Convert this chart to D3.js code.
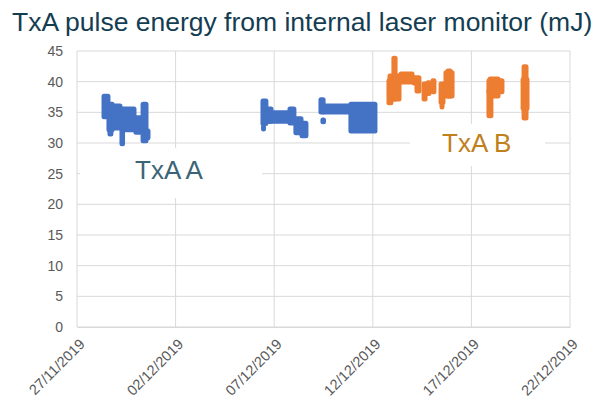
<!DOCTYPE html>
<html><head><meta charset="utf-8">
<script src="https://cdn.jsdelivr.net/npm/d3@7"></script>
<style>body{margin:0;background:#fff}svg{display:block}</style>
</head><body>
<svg id="c" width="604" height="411"></svg>
<script>
// ---- data ----
const title = "TxA pulse energy from internal laser monitor (mJ)";
const startDate = "2019-11-27";
const endDate = "2019-12-22";
const yTicks = [0, 5, 10, 15, 20, 25, 30, 35, 40, 45];
const xTickDates = ["2019-11-27", "2019-12-02", "2019-12-07", "2019-12-12", "2019-12-17", "2019-12-22"];
const seriesNames = ["TxA A", "TxA B"];
// clusters of readings: [start day offset, end day offset, min mJ, max mJ]
const txaA = [
  [1.32, 1.62, 34.1, 37.8], [1.57, 1.83, 32.0, 36.5], [1.62, 1.77, 31.3, 33.0],
  [1.83, 2.23, 32.3, 36.2], [2.23, 2.36, 29.7, 35.7], [2.33, 2.94, 32.0, 35.7],
  [2.94, 3.30, 31.6, 34.3], [3.30, 3.55, 30.2, 36.5], [3.50, 3.65, 30.7, 32.1],
  [9.38, 9.63, 33.0, 37.0], [9.41, 9.51, 32.1, 32.8], [9.63, 10.80, 33.4, 35.1],
  [9.63, 9.89, 33.4, 35.7], [10.75, 11.05, 33.1, 35.7], [11.05, 11.41, 31.5, 34.1],
  [11.36, 11.66, 31.0, 33.4],
  [12.32, 12.53, 34.9, 37.2], [12.42, 12.55, 33.3, 33.9], [12.47, 13.84, 34.9, 36.2],
  [13.84, 15.16, 31.8, 36.5]
];
const txaB = [
  [16.02, 16.18, 37.0, 44.0], [15.82, 16.38, 37.0, 41.1], [15.77, 15.97, 36.4, 40.3],
  [16.38, 17.04, 39.8, 41.4], [17.04, 17.39, 39.6, 40.8], [17.19, 17.39, 38.3, 39.6],
  [17.55, 17.70, 37.0, 39.8], [17.75, 17.90, 37.9, 40.0], [18.00, 18.15, 38.2, 40.3],
  [18.41, 18.61, 36.5, 39.8], [18.46, 18.56, 35.7, 36.4], [18.66, 19.07, 37.5, 41.6],
  [18.76, 18.97, 37.5, 41.9],
  [20.84, 21.04, 34.3, 38.7], [20.84, 21.60, 38.2, 40.3], [20.90, 21.40, 37.5, 40.6],
  [22.62, 22.82, 33.9, 42.6], [22.57, 22.87, 35.5, 40.5]
];

// ---- chart ----
const svg = d3.select("#c");
const parse = d3.timeParse("%Y-%m-%d");
const t0 = parse(startDate);
const dayToDate = d => new Date(t0.getTime() + d * 86400000);
const x = d3.scaleTime().domain([t0, parse(endDate)]).range([77, 570]);
const y = d3.scaleLinear().domain([0, 45]).range([327, 51]);
const grid = "#d9d9d9";

svg.append("text").attr("x", 12).attr("y", 31)
  .attr("font-family", "Liberation Sans, Arial, sans-serif").attr("font-size", 26.5)
  .attr("fill", "#143d52").text(title);

// horizontal grid
svg.append("g").selectAll("line").data(yTicks).join("line")
  .attr("x1", 77).attr("x2", 570).attr("y1", d => y(d)).attr("y2", d => y(d))
  .attr("stroke", grid).attr("stroke-width", 1);
// vertical grid
svg.append("g").selectAll("line").data(xTickDates).join("line")
  .attr("x1", d => x(parse(d))).attr("x2", d => x(parse(d)))
  .attr("y1", y(45)).attr("y2", y(0))
  .attr("stroke", grid).attr("stroke-width", 1);

// y axis
const ya = svg.append("g").attr("transform", "translate(77,0)")
  .call(d3.axisLeft(y).tickValues(yTicks).tickSize(0).tickPadding(14));
ya.select(".domain").remove();
ya.selectAll("text").attr("font-family", "Liberation Sans, Arial, sans-serif")
  .attr("font-size", 14).attr("fill", "#595959");

// x axis
const xa = svg.append("g").attr("transform", `translate(0,${y(0)})`)
  .call(d3.axisBottom(x).tickValues(xTickDates.map(parse)).tickSize(0)
    .tickFormat(d3.timeFormat("%d/%m/%Y")));
xa.select(".domain").attr("stroke", grid);
xa.selectAll("text").attr("font-family", "Liberation Sans, Arial, sans-serif")
  .attr("font-size", 14.5).attr("fill", "#595959")
  .attr("text-anchor", "end").attr("dy", 0)
  .attr("transform", "translate(6,16) rotate(-45)");

// label boxes
const labels = [
  {name: seriesNames[0], box: [80, 148, 182, 50], tx: 135, ty: 179, color: "#3b6577"},
  {name: seriesNames[1], box: [410, 124, 135, 42], tx: 442, ty: 152, color: "#c0801c"}
];
svg.append("g").selectAll("rect").data(labels).join("rect")
  .attr("x", d => d.box[0]).attr("y", d => d.box[1])
  .attr("width", d => d.box[2]).attr("height", d => d.box[3]).attr("fill", "#fff");

function drawSeries(data, color) {
  svg.append("g").selectAll("rect").data(data).join("rect")
    .attr("x", d => x(dayToDate(d[0])) - 1.5)
    .attr("width", d => x(dayToDate(d[1])) - x(dayToDate(d[0])) + 3)
    .attr("y", d => y(d[3]) - 1.5)
    .attr("height", d => y(d[2]) - y(d[3]) + 3)
    .attr("rx", 2.5).attr("fill", color);
}
drawSeries(txaA, "#4472c4");
drawSeries(txaB, "#ed7d31");

svg.append("g").selectAll("text").data(labels).join("text")
  .attr("x", d => d.tx).attr("y", d => d.ty)
  .attr("font-family", "Liberation Sans, Arial, sans-serif").attr("font-size", 26)
  .attr("fill", d => d.color).text(d => d.name);
</script>
</body></html>
